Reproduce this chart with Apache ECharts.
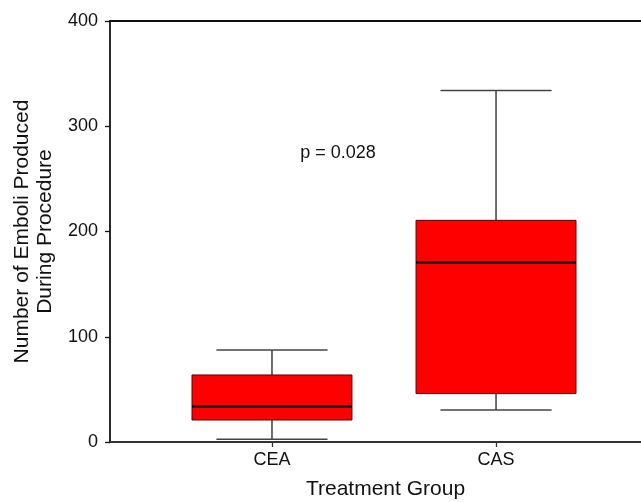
<!DOCTYPE html>
<html>
<head>
<meta charset="utf-8">
<script src="https://cdn.jsdelivr.net/npm/echarts@6/dist/echarts.min.js"></script>
<style>
  html, body { margin: 0; padding: 0; background: #fff; }
  #chart { width: 641px; height: 502px; }
</style>
</head>
<body>
<div id="chart"></div>
<script>
// Treatment groups and their box-plot summaries
const categories = ['CEA', 'CAS'];
const positions = [1, 2];
const whiskerLow = [2.6, 30.4];
const quartile1 = [20.9, 46.0];
const medians = [33.9, 170.7];
const quartile3 = [63.7, 210.6];
const whiskerHigh = [87.4, 333.9];
const yTicks = [0, 100, 200, 300, 400];
const pValueText = 'p = 0.028';

const FONT = '"Liberation Sans", Arial, sans-serif';
const BOX_HALF = 0.357;   // half box width, x-axis units
const CAP_HALF = 0.248;   // half whisker-cap width, x-axis units
const X_MIN = 0.277, X_MAX = 2.656;

const boxData = positions.map((p, i) => [p, whiskerLow[i], quartile1[i], medians[i], quartile3[i], whiskerHigh[i]]);

function renderBox(params, api) {
  const x = api.value(0);
  const lo = api.value(1), q1 = api.value(2), md = api.value(3), q3 = api.value(4), hi = api.value(5);
  const c = (xv, yv) => api.coord([xv, yv]);
  const lineStyle = { stroke: '#222', lineWidth: 1.3 };
  const bl = c(x - BOX_HALF, q3), br = c(x + BOX_HALF, q1);
  return {
    type: 'group',
    children: [
      { type: 'line', shape: { x1: c(x, hi)[0], y1: c(x, hi)[1], x2: c(x, q3)[0], y2: c(x, q3)[1] }, style: lineStyle },
      { type: 'line', shape: { x1: c(x, lo)[0], y1: c(x, lo)[1], x2: c(x, q1)[0], y2: c(x, q1)[1] }, style: lineStyle },
      { type: 'line', shape: { x1: c(x - CAP_HALF, hi)[0], y1: c(x, hi)[1], x2: c(x + CAP_HALF, hi)[0], y2: c(x, hi)[1] }, style: { stroke: '#444', lineWidth: 1.5 } },
      { type: 'line', shape: { x1: c(x - CAP_HALF, lo)[0], y1: c(x, lo)[1], x2: c(x + CAP_HALF, lo)[0], y2: c(x, lo)[1] }, style: { stroke: '#444', lineWidth: 1.5 } },
      { type: 'rect', shape: { x: bl[0], y: bl[1], width: br[0] - bl[0], height: br[1] - bl[1] }, style: { fill: '#ff0000', stroke: '#5a0000', lineWidth: 1 } },
      { type: 'line', shape: { x1: c(x - BOX_HALF, md)[0], y1: c(x, md)[1], x2: c(x + BOX_HALF, md)[0], y2: c(x, md)[1] }, style: { stroke: '#000', lineWidth: 2.2 } }
    ]
  };
}

const chart = echarts.init(document.getElementById('chart'), null, { renderer: 'canvas' });
chart.setOption({
  animation: false,
  backgroundColor: '#fff',
  grid: { left: 110, right: -2, top: 21, bottom: 60, containLabel: false, outerBoundsMode: 'none' },
  xAxis: [
    {
      type: 'value', min: X_MIN, max: X_MAX, position: 'bottom',
      name: 'Treatment Group', nameLocation: 'middle', nameGap: 37,
      nameTextStyle: { fontFamily: FONT, fontSize: 21, color: '#111', padding: [0, 0, 0, 18] },
      axisLine: { show: true, lineStyle: { color: '#333', width: 1.8 } },
      axisTick: { show: true, customValues: positions, length: 5, lineStyle: { color: '#333', width: 1.3 } },
      axisLabel: { show: true, customValues: positions, margin: 9, fontFamily: FONT, fontSize: 18, color: '#111',
        formatter: v => categories[positions.indexOf(v)] },
      splitLine: { show: false }
    },
    {
      type: 'value', min: X_MIN, max: X_MAX, position: 'top',
      axisLine: { show: true, lineStyle: { color: '#111', width: 1.8 } },
      axisTick: { show: false }, axisLabel: { show: false }, splitLine: { show: false }
    }
  ],
  yAxis: {
    type: 'value', min: yTicks[0], max: yTicks[yTicks.length - 1], interval: 100,
    name: 'Number of Emboli Produced\nDuring Procedure', nameLocation: 'middle', nameGap: 52,
    nameTextStyle: { fontFamily: FONT, fontSize: 21, color: '#111', lineHeight: 23 },
    axisLine: { show: true, lineStyle: { color: '#111', width: 1.8 } },
    axisTick: { show: true, length: 5, lineStyle: { color: '#111', width: 1.3 } },
    axisLabel: { margin: 12, fontFamily: FONT, fontSize: 18, color: '#111' },
    splitLine: { show: false }
  },
  series: [{
    type: 'custom',
    xAxisIndex: 0,
    renderItem: renderBox,
    encode: { x: 0, y: [1, 2, 3, 4, 5] },
    data: boxData,
    z: 3
  }]
});

// Significance annotation placed in data coordinates
const pPos = chart.convertToPixel({ xAxisIndex: 0, yAxisIndex: 0 }, [1.295, 275]);
chart.setOption({
  graphic: [{
    type: 'text', x: pPos[0], y: pPos[1],
    style: { text: pValueText, font: '18px ' + FONT, fill: '#111', align: 'center', verticalAlign: 'middle' }
  }]
});
</script>
</body>
</html>
